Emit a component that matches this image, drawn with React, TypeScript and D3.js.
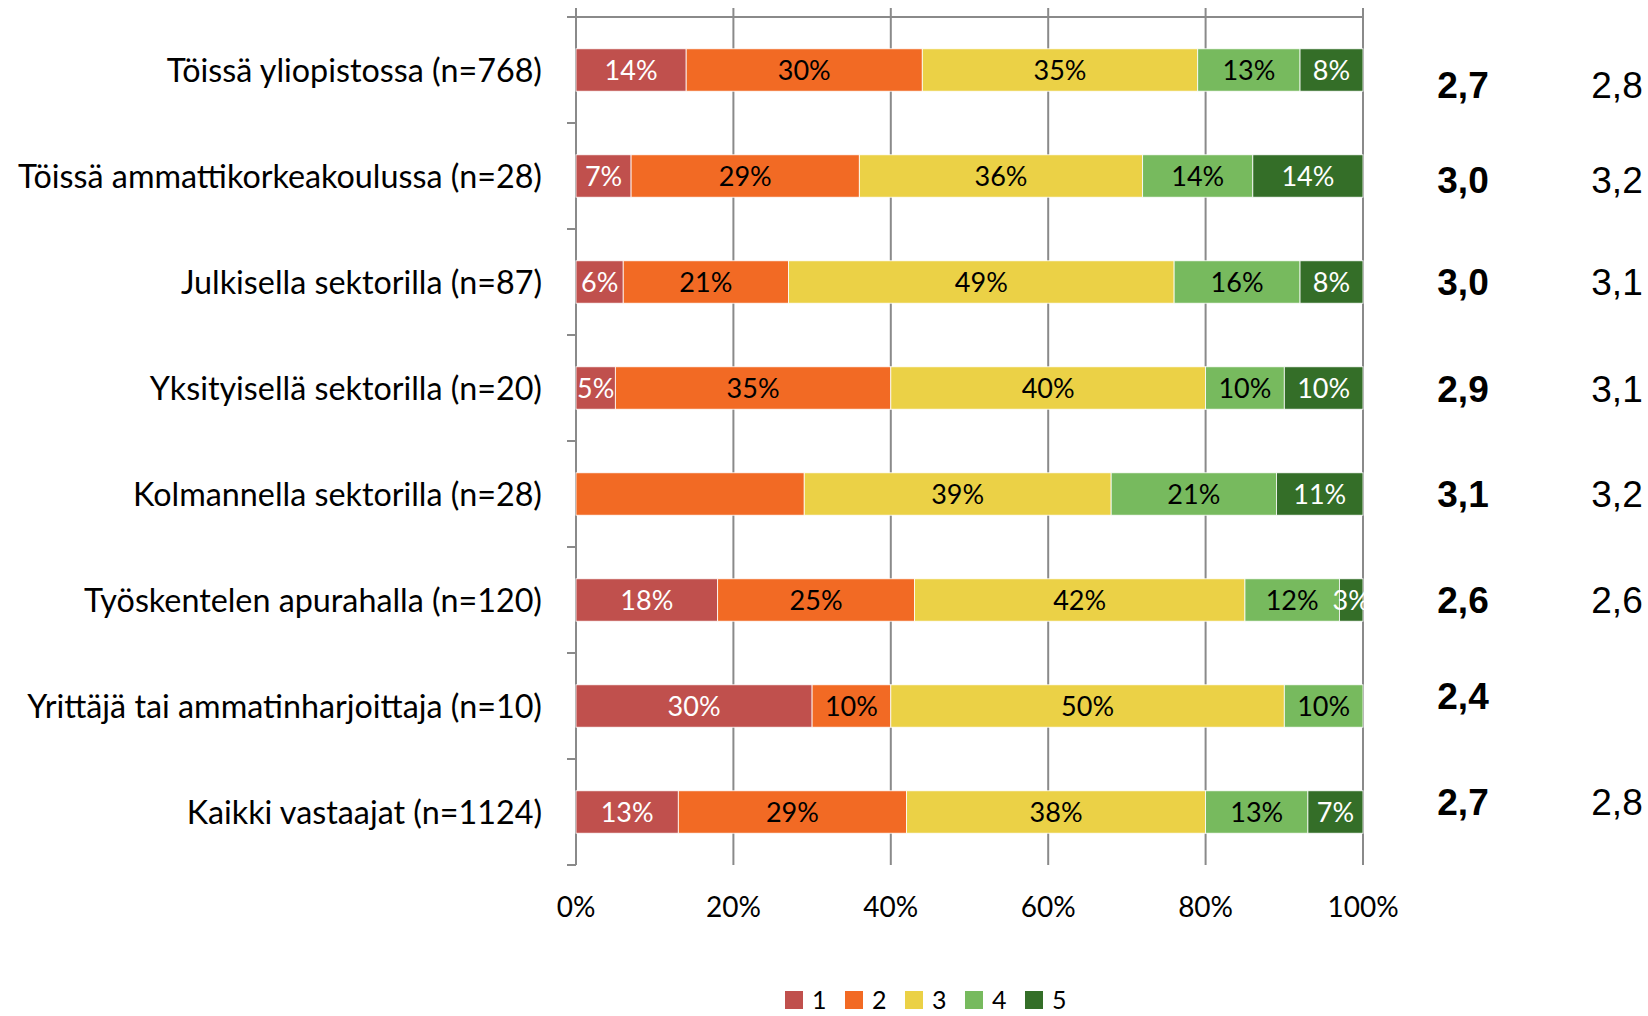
import React from "react";
import * as d3 from "d3";

const categories = [
  "Töissä yliopistossa (n=768)",
  "Töissä ammattikorkeakoulussa (n=28)",
  "Julkisella sektorilla (n=87)",
  "Yksityisellä sektorilla (n=20)",
  "Kolmannella sektorilla (n=28)",
  "Työskentelen apurahalla (n=120)",
  "Yrittäjä tai ammatinharjoittaja (n=10)",
  "Kaikki vastaajat (n=1124)",
];

const seriesNames = ["1", "2", "3", "4", "5"];

// percentages per category for series 1..5
const values = [
  [14, 30, 35, 13, 8],
  [7, 29, 36, 14, 14],
  [6, 21, 49, 16, 8],
  [5, 35, 40, 10, 10],
  [0, 29, 39, 21, 11],
  [18, 25, 42, 12, 3],
  [30, 10, 50, 10, 0],
  [13, 29, 38, 13, 7],
];

// segments whose label is not shown in the original [row, series]
const hiddenLabels = [[4, 1]];

const meanA = ["2,7", "3,0", "3,0", "2,9", "3,1", "2,6", "2,4", "2,7"];
const meanB = ["2,8", "3,2", "3,1", "3,1", "3,2", "2,6", "", "2,8"];
// vertical offsets of the free-floating mean text boxes relative to bar centres
const meanOffsets = [15, 4, 0, 1, 0, 0, -10, -10];

const xTicks = [0, 20, 40, 60, 80, 100];

const colors = ["#C0504D", "#F26A24", "#EBD146", "#77BA5E", "#346E28"];
const labelColors = ["#ffffff", "#000000", "#000000", "#000000", "#ffffff"];

export default function App() {
  const W = 1648;
  const H = 1016;
  const x = d3.scaleLinear().domain([0, 100]).range([576, 1363]);
  const y = d3
    .scaleBand<string>()
    .domain(categories)
    .range([17, 865])
    .paddingInner(0.6)
    .paddingOuter(0.3);
  const step = y.step();
  const boundaries = d3.range(categories.length + 1).map((i) => 17 + i * step);

  const stacked = values.map((row) => {
    let acc = 0;
    return row.map((v) => {
      const s = acc;
      acc += v;
      return { start: s, end: acc, v };
    });
  });

  const isHidden = (r: number, s: number) =>
    hiddenLabels.some(([a, b]) => a === r && b === s);

  const gridColor = "#8a8a8a";
  const labelFont = "Lato, 'Open Sans', sans-serif";

  return (
    <svg
      width={W}
      height={H}
      style={{ position: "absolute", left: 0, top: 0, background: "#fff" }}
      fontFamily={labelFont}
    >
      {/* gridlines */}
      {xTicks.map((t) => (
        <line
          key={"g" + t}
          x1={x(t)}
          x2={x(t)}
          y1={8}
          y2={865}
          stroke={gridColor}
          strokeWidth={2}
        />
      ))}
      {/* top axis line */}
      <line x1={567} x2={x(100)} y1={17} y2={17} stroke={gridColor} strokeWidth={2} />
      {/* category separator ticks */}
      {boundaries.map((b, i) => (
        <line key={"t" + i} x1={567} x2={x(0)} y1={b} y2={b} stroke={gridColor} strokeWidth={2} />
      ))}

      {/* bars */}
      {stacked.map((row, r) =>
        row.map((seg, s) =>
          seg.v > 0 ? (
            <rect
              key={`b${r}-${s}`}
              x={x(seg.start)}
              y={y(categories[r])}
              width={x(seg.end) - x(seg.start)}
              height={y.bandwidth()}
              fill={colors[s]}
              stroke="#ffffff"
              strokeWidth={0.8}
            />
          ) : null
        )
      )}
      {/* bar labels */}
      {stacked.map((row, r) =>
        row.map((seg, s) =>
          seg.v > 0 && !isHidden(r, s) ? (
            <text
              key={`l${r}-${s}`}
              x={(x(seg.start) + x(seg.end)) / 2}
              y={(y(categories[r]) as number) + y.bandwidth() / 2}
              dy="0.36em"
              textAnchor="middle"
              fontSize={27}
              fill={labelColors[s]}
            >
              {seg.v}%
            </text>
          ) : null
        )
      )}

      {/* category labels */}
      {categories.map((c) => (
        <text
          key={c}
          x={542}
          y={(y(c) as number) + y.bandwidth() / 2}
          dy="0.36em"
          textAnchor="end"
          fontSize={32.3}
          fill="#000"
        >
          {c}
        </text>
      ))}

      {/* x tick labels */}
      {xTicks.map((t) => (
        <text
          key={"xl" + t}
          x={x(t)}
          y={907}
          dy="0.36em"
          textAnchor="middle"
          fontSize={28}
          fill="#000"
        >
          {t}%
        </text>
      ))}

      {/* mean columns */}
      {categories.map((c, i) => {
        const cy = (y(c) as number) + y.bandwidth() / 2 + meanOffsets[i];
        return (
          <g key={"m" + i} fontFamily="'Liberation Sans', Arial, sans-serif" fontSize={37}>
            <text x={1463} y={cy} dy="0.36em" textAnchor="middle" fontWeight="bold">
              {meanA[i]}
            </text>
            {meanB[i] ? (
              <text x={1617} y={cy} dy="0.36em" textAnchor="middle">
                {meanB[i]}
              </text>
            ) : null}
          </g>
        );
      })}

      {/* legend */}
      {seriesNames.map((n, i) => (
        <g key={"lg" + n} transform={`translate(${785 + i * 60},991)`}>
          <rect x={0} y={0} width={18} height={18} fill={colors[i]} />
          <text x={27} y={9} dy="0.36em" fontSize={25} fill="#000">
            {n}
          </text>
        </g>
      ))}
    </svg>
  );
}
